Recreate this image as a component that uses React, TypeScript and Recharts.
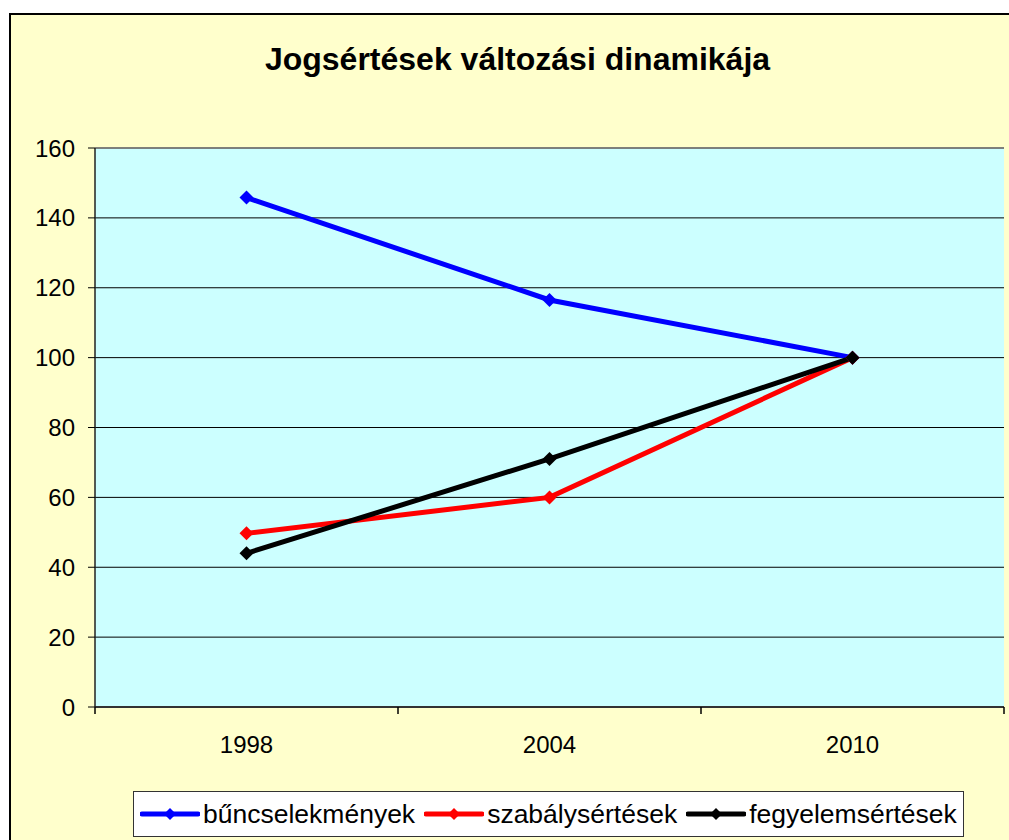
import React from 'react'
import { CartesianGrid, Legend, Line, LineChart, ReferenceLine, XAxis, YAxis } from 'recharts'

const years = ['1998', '2004', '2010']
const buncselekmenyek = [145.8, 116.5, 100]
const szabalysertesek = [49.7, 60, 100]
const fegyelemsertesek = [44, 71, 100]
const yTicks = [0, 20, 40, 60, 80, 100, 120, 140, 160]

const series = [
  { key: 'bun', name: 'bűncselekmények', color: '#0000FF' },
  { key: 'szab', name: 'szabálysértések', color: '#FF0000' },
  { key: 'fegy', name: 'fegyelemsértések', color: '#000000' },
]

const data = years.map((year, i) => ({
  year,
  bun: buncselekmenyek[i],
  szab: szabalysertesek[i],
  fegy: fegyelemsertesek[i],
}))

const FONT = '"Liberation Sans", Arial, sans-serif'

function diamond(cx: number, cy: number, r: number) {
  return `${cx},${cy - r} ${cx + r},${cy} ${cx},${cy + r} ${cx - r},${cy}`
}

function makeDot(color: string) {
  return (p: any) => {
    if (p.cx == null || p.cy == null) return <g key={p.index} />
    return <polygon key={p.index} points={diamond(p.cx, p.cy, 7)} fill={color} />
  }
}

function YearTick(props: any) {
  const { x, y, payload, index, visibleTicksCount } = props
  const half = payload.offset ?? 0
  const last = index === visibleTicksCount - 1
  return (
    <g>
      <line x1={x - half} x2={x - half} y1={y} y2={y + 7} stroke="#000" strokeWidth={1.5} />
      {last && <line x1={x + half} x2={x + half} y1={y} y2={y + 7} stroke="#000" strokeWidth={1.5} />}
      <text x={x} y={y + 46} textAnchor="middle" fontSize={24} fontFamily={FONT} fill="#000">
        {payload.value}
      </text>
    </g>
  )
}

// keep the legend in series order (Recharts reorders the payload)
function LegendBox() {
  return (
    <div
      style={{
        display: 'flex',
        alignItems: 'center',
        width: 831,
        height: 46,
        boxSizing: 'border-box',
        border: '1px solid #333',
        background: '#fff',
        fontFamily: FONT,
        fontSize: 26.5,
        paddingLeft: 6,
        color: '#000',
        whiteSpace: 'nowrap',
      }}
    >
      {series.map((s) => (
        <div key={s.key} style={{ display: 'flex', alignItems: 'center', marginRight: 9 }}>
          <svg width={60} height={20}>
            <line x1={2} x2={58} y1={10} y2={10} stroke={s.color} strokeWidth={5} strokeLinecap="round" />
            <polygon points={diamond(30, 10, 6)} fill={s.color} />
          </svg>
          <span style={{ marginLeft: 3 }}>{s.name}</span>
        </div>
      ))}
    </div>
  )
}

export default function App() {
  return (
    <div style={{ position: 'absolute', left: 0, top: 0, width: 1009, height: 840, overflow: 'hidden' }}>
      <div
        style={{
          position: 'absolute',
          left: 9,
          top: 13,
          width: 1020,
          height: 850,
          border: '2px solid #000',
          background: '#FFFFCC',
        }}
      />
      <div
        style={{
          position: 'absolute',
          left: 0,
          top: 43,
          width: 1035,
          textAlign: 'center',
          fontFamily: FONT,
          fontWeight: 'bold',
          fontSize: 32,
          lineHeight: '32px',
          color: '#000',
        }}
      >
        Jogsértések változási dinamikája
      </div>
      <div style={{ position: 'absolute', left: 0, top: 0 }}>
        <LineChart width={1009} height={840} data={data} margin={{ top: 148, right: 5, bottom: 0, left: 0 }}>
          <CartesianGrid vertical={false} horizontal stroke="#000" fill="#CCFFFF" fillOpacity={1} />
          <XAxis
            dataKey="year"
            scale="band"
            height={133}
            tickSize={0}
            tickMargin={0}
            tickLine={false}
            axisLine={{ stroke: '#333', strokeWidth: 2 }}
            tick={<YearTick />}
            interval={0}
          />
          <YAxis
            domain={[0, 160]}
            ticks={yTicks}
            width={95}
            tickSize={7}
            tickMargin={13}
            tickLine={{ stroke: '#000' }}
            axisLine={{ stroke: '#222', strokeWidth: 1.5 }}
            tick={{ fontSize: 24, fontFamily: FONT, fill: '#000' }}
            interval={0}
          />
          <YAxis yAxisId="r" orientation="right" width={0} domain={[0, 160]} tick={false} tickLine={false} axisLine={{ stroke: '#808080', strokeWidth: 1.5 }} />
          <ReferenceLine y={160} stroke="#808080" strokeWidth={1.5} />
          {series.map((s) => (
            <Line
              key={s.key}
              type="linear"
              dataKey={s.key}
              name={s.name}
              stroke={s.color}
              strokeWidth={5}
              dot={makeDot(s.color)}
              activeDot={false}
              isAnimationActive={false}
            />
          ))}
          <Legend
            layout="horizontal"
            verticalAlign="middle"
            align="center"
            content={<LegendBox />}
            wrapperStyle={{ left: 133, top: 791, width: 831, height: 46 }}
          />
        </LineChart>
      </div>
    </div>
  )
}
